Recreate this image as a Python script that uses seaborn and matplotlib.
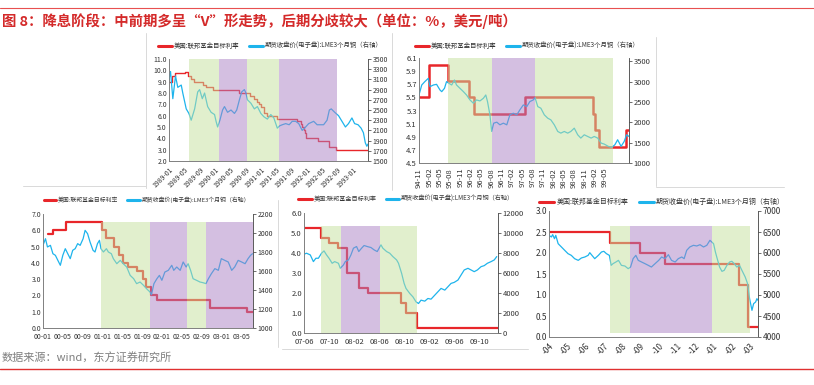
import numpy as np
import pandas as pd
import matplotlib
matplotlib.use('Agg')
import matplotlib.pyplot as plt
from matplotlib.lines import Line2D
import seaborn as sns

sns.set_style('white')
plt.rcParams['font.family'] = ['Noto Sans CJK SC', 'DejaVu Sans']
plt.rcParams['axes.unicode_minus'] = False

W, H = 814, 385

title = '图 8：降息阶段：中前期多呈“V”形走势，后期分歧较大（单位：%，美元/吨）'
source = '数据来源：wind，东方证券研究所'
lab_ff = '美国:联邦基金目标利率'
lab_cu = '期货收盘价(电子盘):LME3个月铜（右轴）'

# ---- panel 1 : 1989-1993 (x in months from 1989-01)
p1_ff_m = [0, 0.9, 1.5, 4.1, 4.9, 5.8, 6.5, 8.8, 9.7, 11.4, 18.2, 21.1, 22.3, 22.9, 23.5, 24.0, 24.8, 25.7,
           28.3, 33.5, 34.4, 34.8, 35.2, 35.5, 35.8, 39.0, 41.7, 43.7, 52]
p1_ff = [9.0, 9.5, 9.75, 9.81, 9.5, 9.25, 9.0, 8.75, 8.5, 8.25, 8.0, 7.75, 7.5, 7.25, 7.0, 6.75, 6.25, 6.0,
         5.75, 5.5, 5.25, 5.0, 4.75, 4.5, 4.0, 3.75, 3.25, 3.0, 3.0]
p1_cu_m = [0, 0.4, 1, 1.7, 2.3, 3.2, 3.6, 4.5, 5.2, 5.8, 6.7, 7.5, 8, 8.7, 9.3, 10.1, 11, 11.9, 12.3, 12.7,
           13.3, 14, 14.5, 15.3, 16.2, 17.1, 17.7, 18.4, 19, 19.7, 20.1, 20.5, 21.4, 22.3, 23.1, 24, 24.8, 25.7,
           26.6, 27.4, 28.3, 28.9, 29.6, 30.5, 31.4, 32.2, 33.1, 33.9, 34.8, 35.7, 36.5, 37.8, 38.7, 39.5, 40.4,
           41.3, 41.9, 42.4, 43.3, 44.3, 45.2, 46.1, 46.9, 47.8, 48.5, 49.4, 50.2, 50.8, 51.3, 51.7, 52]
p1_cu = [3100, 3255, 2722, 3167, 2944, 2989, 2833, 2522, 2433, 2300, 2522, 2855, 2900, 2722, 2833, 2567, 2455,
         2411, 2278, 2167, 2300, 2500, 2567, 2455, 2500, 2433, 2500, 2700, 2855, 2900, 2833, 2700, 2633, 2522,
         2567, 2433, 2367, 2322, 2411, 2344, 2144, 2189, 2211, 2233, 2211, 2278, 2278, 2233, 2100, 2167, 2233,
         2278, 2211, 2211, 2211, 2300, 2500, 2522, 2455, 2389, 2278, 2167, 2233, 2344, 2233, 2211, 2144, 2055,
         1855, 1789, 1833]
p1_ticks = ['1989-01', '1989-05', '1989-09', '1990-01', '1990-05', '1990-09', '1991-01', '1991-05',
            '1991-09', '1992-01', '1992-05', '1992-09', '1993-01']
p1_spans = [(5.2, 13.0, 'g'), (13.0, 20.5, 'p'), (20.5, 28.8, 'g'), (28.8, 44.0, 'p')]

# ---- panel 2 : 1994-11 - 1999
p2_ff_m = [0, 3.0, 8.5, 14.5, 16.0, 30.8, 50.6, 51.1, 52.3, 60.0, 61]
p2_ff = [5.5, 6.0, 5.75, 5.5, 5.25, 5.5, 5.25, 5.0, 4.75, 5.0, 5.0]
p2_cu_m = [0, 0.8, 1.7, 2.7, 3.2, 4.2, 5.1, 6.1, 6.6, 7.4, 8.0, 8.7, 9.5, 10.3, 10.9, 11.9, 12.9, 13.8, 14.8,
           15.8, 16.7, 17.7, 18.7, 19.4, 19.9, 20.6, 21.1, 21.7, 22.6, 23.5, 24.5, 25.5, 26.4, 27.4, 28.4, 29.3,
           30.3, 31.3, 32.2, 33.2, 33.7, 34.5, 35.4, 36.4, 37.4, 38.3, 39.3, 40.3, 41.2, 42.2, 43.2, 44.1, 45.1,
           46.1, 47, 48, 49, 50, 50.9, 51.9, 52.9, 53.8, 55, 56, 56.9, 57.7, 58.7, 59.6, 60.3, 61]
p2_cu = [2672, 2917, 3000, 3080, 2876, 2917, 2933, 2794, 2753, 2835, 3000, 2957, 2917, 3040, 2917, 2835, 2753,
         2672, 2550, 2468, 2550, 2525, 2590, 2672, 2509, 2183, 1775, 1979, 2003, 1938, 1979, 1938, 2183, 2223,
         2183, 2305, 2427, 2386, 2509, 2550, 2607, 2386, 2346, 2183, 2101, 2060, 1938, 1775, 1734, 1775, 1734,
         1775, 1856, 1693, 1612, 1693, 1652, 1612, 1652, 1612, 1489, 1465, 1408, 1383, 1449, 1571, 1408, 1530,
         1693, 1652]
p2_ticks = ['94-11', '95-02', '95-05', '95-08', '95-11', '96-02', '96-05', '96-08', '96-11', '97-02', '97-05',
            '97-08', '97-11', '98-02', '98-05', '98-08', '98-11', '99-02', '99-05']
p2_spans = [(8.3, 21.3, 'g'), (21.3, 33.7, 'p'), (33.7, 56.4, 'g')]

# ---- panel 3 : 2000-2003
p3_ff_m = [1.0, 2.1, 4.6, 11.9, 12.75, 14.4, 15.4, 16.2, 17.2, 18.9, 20.1, 20.7, 21.9, 23.0, 33.7, 41.1, 42.4]
p3_ff = [5.75, 6.0, 6.5, 6.0, 5.5, 5.0, 4.5, 4.0, 3.75, 3.5, 3.0, 2.5, 2.0, 1.75, 1.25, 1.0, 1.0]
p3_cu_m = [0, 0.5, 0.9, 1.5, 2, 2.5, 3, 3.5, 4, 4.5, 5, 5.5, 6, 6.5, 7, 7.5, 8.1, 8.5, 9, 9.5, 10.1, 10.5, 11,
           11.4, 11.7, 12.2, 12.8, 13.2, 13.8, 14.2, 14.9, 15.6, 16.2, 16.9, 17.6, 18.3, 18.9, 19.6, 20.3, 20.9,
           21.6, 21.9, 22.4, 23, 23.5, 24, 24.6, 25.3, 26, 26.4, 27, 27.7, 28.3, 28.9, 29.3, 29.8, 30.3, 31, 31.7,
           32.3, 32.9, 33.4, 34, 34.7, 35.4, 36, 36.7, 37.4, 38.1, 38.7, 39.4, 40.1, 40.8, 41.4, 41.9, 42.3]
p3_cu = [1870, 1940, 1853, 1870, 1782, 1765, 1712, 1660, 1765, 1835, 1782, 1730, 1818, 1835, 1888, 1870, 1940,
         2028, 1993, 1905, 1818, 1800, 1888, 1923, 1835, 1800, 1835, 1800, 1782, 1730, 1677, 1712, 1677, 1642,
         1554, 1519, 1467, 1484, 1449, 1414, 1379, 1351, 1467, 1519, 1554, 1502, 1589, 1607, 1660, 1607, 1642,
         1607, 1695, 1642, 1677, 1607, 1519, 1502, 1484, 1477, 1467, 1519, 1572, 1625, 1607, 1730, 1712, 1695,
         1607, 1642, 1712, 1695, 1677, 1730, 1765, 1782]
p3_ticks = ['00-01', '00-05', '00-09', '01-01', '01-05', '01-09', '02-01', '02-05', '02-09', '03-01', '03-05']
p3_spans = [(11.8, 21.7, 'g'), (21.7, 29.0, 'p'), (29.0, 32.9, 'g'), (32.9, 42.4, 'p')]

# ---- panel 4 : 2007-2009
p4_ff_m = [0, 2.65, 4.0, 5.4, 6.9, 8.75, 10.2, 15.5, 16.3, 18.1, 31]
p4_ff = [5.25, 4.75, 4.5, 4.25, 3.0, 2.25, 2.0, 1.5, 1.0, 0.25, 0.25]
p4_cu_m = [0, 0.4, 1, 1.5, 1.9, 2.3, 2.8, 3.2, 3.6, 4, 4.5, 4.9, 5.5, 5.8, 6.3, 6.6, 7.1, 7.5, 7.9, 8.4, 8.75,
           9.2, 9.6, 10.1, 10.7, 11.2, 11.7, 12.3, 12.6, 13.2, 13.7, 14.2, 14.8, 15.1, 15.6, 16, 16.3, 16.9,
           17.4, 17.9, 18.3, 18.7, 19.3, 19.8, 20.3, 20.9, 21.4, 21.9, 22.5, 23, 23.5, 24, 24.6, 25.1, 25.6,
           26.2, 26.7, 27.2, 27.7, 28.3, 28.8, 29.3, 29.9, 30.4, 30.8]
p4_cu = [7877, 7978, 7810, 7140, 7475, 7475, 7978, 8212, 7810, 7475, 6972, 7140, 6972, 6469, 6804, 7140, 7307,
         7810, 8480, 8648, 8145, 8480, 8749, 8648, 8547, 8313, 8145, 8815, 8480, 8145, 7978, 7642, 7307, 6972,
         5966, 4961, 4458, 3955, 3620, 3117, 2950, 3285, 3184, 3452, 3385, 3788, 4123, 4458, 4290, 4625, 4961,
         5061, 5296, 5799, 6302, 6469, 6302, 6134, 6302, 6637, 6737, 6972, 7140, 7307, 7642]
p4_ticks = ['07-06', '07-10', '08-02', '08-06', '08-10', '09-02', '09-06', '09-10']
p4_spans = [(2.7, 5.9, 'g'), (5.9, 12.2, 'p'), (12.2, 18.1, 'g')]

# ---- panel 5 : 2019-2020
p5_ff_m = [0, 3.33, 4.97, 6.35, 10.4, 10.86, 11.43]
p5_ff = [2.5, 2.25, 2.0, 1.75, 1.25, 0.25, 0.25]
p5_cu_m = [0, 0.13, 0.2, 0.3, 0.37, 0.5, 0.68, 0.86, 1.04, 1.22, 1.4, 1.6, 1.77, 1.96, 2.14, 2.23, 2.32, 2.5,
           2.7, 2.87, 3.0, 3.14, 3.3, 3.4, 3.5, 3.66, 3.8, 3.96, 4.15, 4.33, 4.46, 4.6, 4.75, 4.88, 5.06, 5.25,
           5.43, 5.6, 5.8, 6.0, 6.16, 6.34, 6.53, 6.7, 6.9, 7.07, 7.26, 7.39, 7.53, 7.7, 7.9, 8.08, 8.26, 8.45,
           8.63, 8.8, 8.9, 9.0, 9.1, 9.2, 9.33, 9.46, 9.58, 9.73, 9.88, 10.0, 10.13, 10.27, 10.42, 10.55, 10.73,
           10.86, 10.97, 11.1, 11.19, 11.3, 11.37, 11.43]
p5_cu = [6421, 6381, 6437, 6341, 6421, 6222, 6143, 6063, 5984, 5944, 5865, 5825, 5881, 5905, 5944, 6008, 5960,
         5865, 5944, 6024, 6040, 5984, 5944, 5706, 5746, 5786, 5825, 5706, 5690, 5627, 5666, 5865, 5944, 5825,
         5786, 5746, 5706, 5666, 5746, 5825, 5905, 5865, 5960, 5825, 5786, 5865, 5905, 5865, 6063, 6143, 6183,
         6167, 6198, 6143, 6183, 6302, 6262, 6222, 6024, 5865, 5666, 5563, 5587, 5706, 5786, 5802, 5746, 5666,
         5706, 5587, 5429, 5270, 4913, 4635, 4794, 4833, 4913, 4873]
p5_ticks = ['-04', '-05', '-06', '-07', '-08', '-09', '-10', '-11', '-12', '-01', '-02', '-03']
p5_spans = [(3.33, 4.42, 'g'), (4.42, 8.9, 'p'), (8.9, 11.0, 'g')]

RED = '#E8262A'
BLUE = '#1EB4EC'
SPAN_C = {'g': '#C5E19D', 'p': '#AB81C5'}
TXT = '#333333'


def rect(l, t, r, b):
    return [l / W, 1 - b / H, (r - l) / W, (b - t) / H]


def panel(fig, box, ff_m, ff, cu_m, cu, ticks, tick_step, xmax, spans, span_y,
          ylim1, yt1, fmt1, ylim2, yt2, rot, fs, leg_xy, leg_fs, red_lw):
    ax = fig.add_axes(rect(*box))
    ax2 = ax.twinx()
    d_ff = pd.DataFrame({'m': ff_m, 'v': ff})
    d_cu = pd.DataFrame({'m': cu_m, 'v': cu})
    sns.lineplot(data=d_ff, x='m', y='v', ax=ax, color=RED, lw=red_lw, drawstyle='steps-post',
                 estimator=None, sort=False)
    sns.lineplot(data=d_cu, x='m', y='v', ax=ax2, color=BLUE, lw=0.9, estimator=None, sort=False)
    # shaded periods drawn on top so the lines show through tinted
    for a, b, c in spans:
        ax2.axvspan(a, b, ymin=span_y[0], ymax=span_y[1], color=SPAN_C[c], alpha=0.5, lw=0, zorder=5)
    ax.set_xlim(0, xmax)
    ax.set_ylim(*ylim1)
    ax.set_yticks(yt1)
    ax.set_yticklabels([fmt1.format(v) for v in yt1])
    ax2.set_ylim(*ylim2)
    ax2.set_yticks(yt2)
    ax2.set_yticklabels([str(v) for v in yt2])
    ax.set_xticks([i * tick_step for i in range(len(ticks))])
    if rot == 45:
        ax.set_xticklabels(ticks, rotation=45, ha='right', rotation_mode='anchor')
    else:
        ax.set_xticklabels(ticks, rotation=rot)
    for a_ in (ax, ax2):
        a_.set_xlabel('')
        a_.set_ylabel('')
        a_.tick_params(labelsize=fs, colors=TXT, length=2, width=0.5, pad=1.5)
        for s in a_.spines.values():
            s.set_linewidth(0.6)
            s.set_color('#808080')
        a_.spines['top'].set_visible(False)
    ax.tick_params(axis='y', length=0)
    ax2.spines['right'].set_color('#404040')
    ax.spines['right'].set_visible(False)
    handles = [Line2D([], [], color=RED, lw=2.2), Line2D([], [], color=BLUE, lw=2.2)]
    fig.legend(handles, [lab_ff, lab_cu], loc='center', ncol=2, frameon=False, fontsize=leg_fs,
               bbox_to_anchor=(leg_xy[0] / W, 1 - leg_xy[1] / H), handlelength=2.2,
               handletextpad=0.3, columnspacing=1.5, labelcolor=TXT)
    return ax


fig = plt.figure(figsize=(W / 100, H / 100), dpi=100)

panel(fig, (169, 59, 368, 161), p1_ff_m, p1_ff, p1_cu_m, p1_cu, p1_ticks, 4, 52, p1_spans, (0, 1),
      (2, 11), list(range(2, 12)), '{:.1f}', (1500, 3500), list(range(1500, 3501, 200)), 45, 5,
      (270, 46), 4.6, 1.0)
panel(fig, (419, 58, 629, 163), p2_ff_m, p2_ff, p2_cu_m, p2_cu, p2_ticks, 3, 61, p2_spans, (0, 1),
      (4.5, 6.1), [4.5, 4.7, 4.9, 5.1, 5.3, 5.5, 5.7, 5.9, 6.1], '{:.1f}', (1000, 3580),
      list(range(1000, 3501, 500)), 90, 5.5, (527, 46), 4.6, 1.8)
panel(fig, (43, 214, 253, 328), p3_ff_m, p3_ff, p3_cu_m, p3_cu, p3_ticks, 4, 42.4, p3_spans, (0, 0.93),
      (0, 7), list(range(0, 8)), '{:.1f}', (1000, 2200), list(range(1000, 2201, 200)), 0, 5,
      (147, 200), 4.2, 1.6)
panel(fig, (304, 213, 498, 333), p4_ff_m, p4_ff, p4_cu_m, p4_cu, p4_ticks, 4, 31, p4_spans, (0, 0.893),
      (0, 6), list(range(0, 7)), '{:.1f}', (0, 12000), list(range(0, 12001, 2000)), 0, 5.5,
      (406, 199), 4.4, 1.6)
panel(fig, (549, 211, 758, 337), p5_ff_m, p5_ff, p5_cu_m, p5_cu, p5_ticks, 1, 11.43, p5_spans,
      (0.033, 0.877), (0, 3), [0, 0.5, 1.0, 1.5, 2.0, 2.5, 3.0], '{:.1f}', (4000, 7000),
      list(range(4000, 7001, 500)), 45, 6, (662, 202), 5, 1.6)

# page decorations
fig.text(2 / W, 1 - 21 / H, title, color='#D42A2A', fontsize=10.4, fontweight='bold', va='center')
fig.text(2 / W, 1 - 358 / H, source, color='#7F7F7F', fontsize=8, va='center')
fig.add_artist(Line2D([0, 1], [1 - 8 / H, 1 - 8 / H], color='#E85050', lw=0.8))
fig.add_artist(Line2D([0, 1], [1 - 369 / H, 1 - 369 / H], color='#E03030', lw=1.0))

# faint frames of the pasted screenshots
frame = '#D9D9D9'
for (x0, y0, x1, y1) in [(146, 33, 146, 188), (23, 186, 146, 186), (392, 33, 392, 190),
                         (656, 37, 656, 186), (656, 187, 784, 187), (278, 200, 278, 347),
                         (282, 349, 528, 349)]:
    fig.add_artist(Line2D([x0 / W, x1 / W], [1 - y0 / H, 1 - y1 / H], color=frame, lw=0.7))

fig.savefig('out.png', dpi=100)
